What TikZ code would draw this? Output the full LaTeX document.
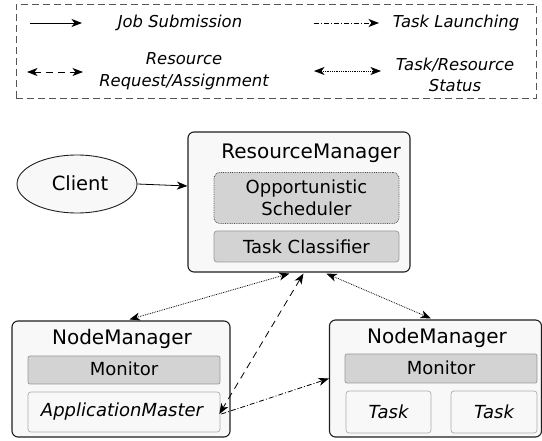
\documentclass[tikz,border=0pt]{standalone}
\usepackage{fontspec}
\setmainfont{DejaVu Sans}
\usetikzlibrary{arrows.meta,shapes.geometric,calc}
\definecolor{outerfill}{HTML}{F8F8F8}
\definecolor{innerfill}{HTML}{D3D3D3}
\definecolor{innerline}{HTML}{9A9A9A}
\definecolor{legline}{HTML}{555555}
\begin{document}
\begin{tikzpicture}[x=1pt,y=-1pt,
  outerbox/.style={draw=black!88, line width=1.1pt, fill=outerfill, rounded corners=6pt, inner sep=0pt},
  graybox/.style={draw=innerline, line width=0.7pt, fill=innerfill, rounded corners=3pt, inner sep=0pt},
  schedbox/.style={draw=black!70, line width=0.8pt, densely dotted, fill=innerfill, rounded corners=6pt, inner sep=0pt},
  whitebox/.style={draw=innerline!80, line width=0.7pt, fill=outerfill, rounded corners=3pt, inner sep=0pt},
  titletext/.style={font=\fontsize{20}{24}\selectfont, inner sep=0pt},
  innertext/.style={font=\fontsize{18}{22}\selectfont, inner sep=0pt, align=center},
  legtext/.style={font=\fontsize{16.4}{21.5}\selectfont\itshape, inner sep=0pt, align=center},
  legendbox/.style={draw=legline, line width=1pt, dash pattern=on 7pt off 4pt},
  headtip/.tip={Stealth[length=10.5pt,width=8pt,inset=3pt]},
  tip/.style={line width=0.8pt},
  submit/.style={tip, -headtip},
  launch/.style={tip, dash pattern=on 5pt off 2pt on 1pt off 2pt, -headtip},
  request/.style={tip, dash pattern=on 7pt off 5pt, headtip-headtip},
  status/.style={tip, densely dotted, headtip-headtip},
]
\useasboundingbox (0,0) rectangle (542,441);

% ---------- legend ----------
\node[legendbox, minimum width=520pt, minimum height=94pt, inner sep=0pt] (leg) at (276,51.5) {};
\coordinate (l1a) at (30,23);  \coordinate (l1b) at (82,23);
\coordinate (l2a) at (314,23); \coordinate (l2b) at (379,23);
\coordinate (l3a) at (27,72);  \coordinate (l3b) at (83,72);
\coordinate (l4a) at (314,71); \coordinate (l4b) at (381,71);
\draw[submit] (l1a) -- (l1b);
\draw[launch] (l2a) -- (l2b);
\draw[request] (l3a) -- (l3b);
\draw[status] (l4a) -- (l4b);
\node[legtext] (t1) at (180,23) {Job Submission};
\node[legtext] (t2) at (456,23) {Task Launching};
\node[legtext] (t3) at (184,71) {Resource\\Request/Assignment};
\node[legtext] (t4) at (455,75) {Task/Resource\\Status};

% ---------- client ----------
\node[ellipse, draw=black!88, line width=0.9pt, fill=outerfill, minimum width=120pt, minimum height=58pt, inner sep=0pt] (client) at (77,184) {};
\node[titletext, font=\fontsize{19.5}{24}\selectfont] (clientt) at (80,183) {Client};

% ---------- resource manager ----------
\node[outerbox, minimum width=222pt, minimum height=140pt] (RM) at (299,202) {};
\node[titletext] (RMt) at (311,153) {ResourceManager};
\node[schedbox, minimum width=185pt, minimum height=51pt] (sched) at (306.5,198) {};
\node[innertext] (schedt) at (306.5,198) {Opportunistic\\Scheduler};
\node[graybox, minimum width=185pt, minimum height=31pt] (cls) at (306.5,246.5) {};
\node[innertext] (clst) at (306.5,246.5) {Task Classifier};

% ---------- left node manager ----------
\node[outerbox, minimum width=218pt, minimum height=116pt] (LNM) at (121,379) {};
\node[titletext] (LNMt) at (122,339) {NodeManager};
\node[graybox, rounded corners=2pt, minimum width=192pt, minimum height=28pt] (lmon) at (124,370) {};
\node[innertext] (lmont) at (124,369) {Monitor};
\node[whitebox, minimum width=192pt, minimum height=40pt] (AM) at (124,412) {};
\node[innertext, font=\fontsize{18}{22}\selectfont\itshape] (AMt) at (122,412) {ApplicationMaster};

% ---------- right node manager ----------
\node[outerbox, minimum width=212pt, minimum height=117pt] (RNM) at (435.5,378.5) {};
\node[titletext] (RNMt) at (437,338) {NodeManager};
\node[graybox, rounded corners=2pt, minimum width=192pt, minimum height=29pt] (rmon) at (441,368.5) {};
\node[innertext] (rmont) at (441,368) {Monitor};
\node[whitebox, minimum width=85pt, minimum height=42pt] (task1) at (388.5,412) {};
\node[innertext, font=\fontsize{18}{22}\selectfont\itshape] (task1t) at (388.5,412) {Task};
\node[whitebox, minimum width=86pt, minimum height=42pt] (task2) at (494,412) {};
\node[innertext, font=\fontsize{18}{22}\selectfont\itshape] (task2t) at (494,412) {Task};

% ---------- connectors ----------
\draw[submit] (client.east) -- ($(RM.west)+(0,-16)$);
\draw[status] ($(RM.south west)+(102,1)$) -- ($(LNM.north west)+(118,-1)$);
\draw[status] ($(RM.south west)+(139,1)$) -- ($(RNM.north west)+(102,-1)$);
\draw[request] ($(RM.south west)+(116,1)$) -- ($(AM.east)+(-1,2)$);
\draw[launch] ($(AM.east)+(1,2)$) -- (RNM.west);
\end{tikzpicture}
\end{document}
